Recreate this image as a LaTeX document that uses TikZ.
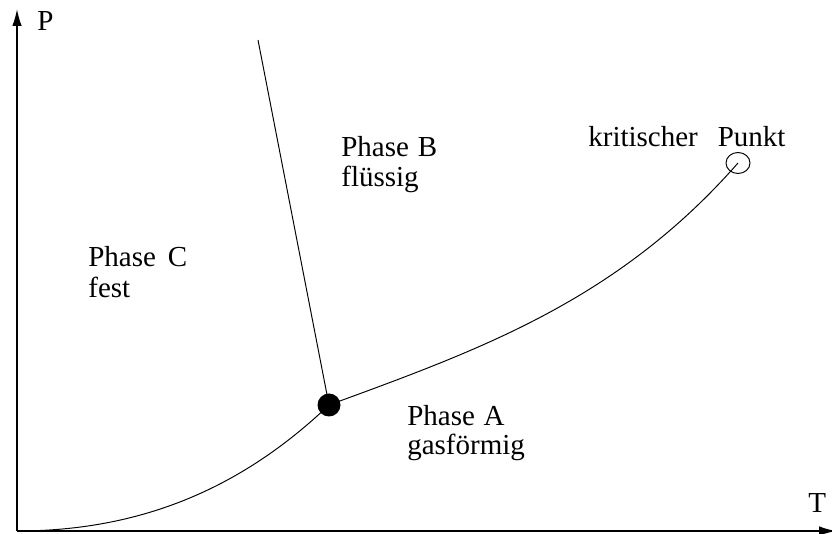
\documentclass[tikz,border=0pt]{standalone}
\usepackage{fontspec}
\setmainfont{Liberation Serif}
\usepackage{tikz}
\usetikzlibrary{calc,arrows.meta}
\usetikzlibrary{shapes.geometric}

\begin{document}
\begin{tikzpicture}[x=0.02cm, y=0.02cm,
    achse/.style={line width=0.85pt, -{Latex[length=0.34cm,width=0.19cm]}},
    kurve/.style={line width=0.55pt},
    schrift/.style={anchor=base west, inner sep=0pt, font=\fontsize{16.5pt}{19pt}\selectfont}]
    \useasboundingbox (-17,-3) rectangle (815,531);
    % Achsen
    \coordinate (O) at (0,0);
    \coordinate (Pmax) at (0,522);
    \coordinate (Tmax) at (819,0);
    \draw[achse] (O) -- (Pmax);
    \draw[achse] (O) -- (Tmax);
    \node[schrift] (Plabel) at (20,500) {P};
    \node[schrift] (Tlabel) at (791,18) {T};
    % Tripelpunkt und kritischer Punkt
    \node[circle, fill=black, minimum size=0.46cm, inner sep=0pt] (triple) at (312,126) {};
    \node[ellipse, draw, line width=0.55pt, minimum width=0.48cm, minimum height=0.42cm, inner sep=0pt] (krit) at (721,368) {};
    \coordinate (schmelz) at (241,491);
    % Phasengrenzen
    \draw[kurve] (O) .. controls (120,0) and (222,40) .. (triple.center);
    \draw[kurve] (triple.center) .. controls (462,181) and (600,230) .. (krit.center);
    \draw[kurve] (triple.center) -- (schmelz);
    % Beschriftung
    \node[schrift] (phaseC) at (71,264) {Phase\hspace{0.41em}C};
    \node[schrift] (fest) at (71,233) {fest};
    \node[schrift] (phaseB) at (324,374) {Phase\hspace{0.31em}B};
    \node[schrift] (fluessig) at (324,344) {flüssig};
    \node[schrift] (phaseA) at (390,105) {Phase\hspace{0.3em}A};
    \node[schrift] (gas) at (390,76) {gasförmig};
    \node[schrift] (kritlabel) at (571,384) {kritischer\hspace{0.69em}Punkt};
\end{tikzpicture}
\end{document}
